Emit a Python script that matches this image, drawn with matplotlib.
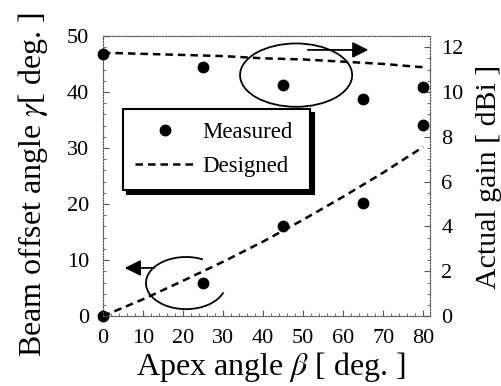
import numpy as np
import matplotlib
matplotlib.use("Agg")
import matplotlib.pyplot as plt
from matplotlib.patches import Ellipse, Arc
from matplotlib.lines import Line2D

plt.rcParams['font.family'] = ['Liberation Serif', 'DejaVu Serif']
plt.rcParams['mathtext.fontset'] = 'stix'

# measured / designed data
apex_meas = [0, 25, 45, 65, 80]
offset_meas = [0, 5.9, 16.0, 20.2, 34.1]
gain_meas = [11.7, 11.1, 10.3, 9.7, 10.2]

apex_des = [0, 10, 20, 30, 40, 50, 60, 70, 80]
offset_des = [0, 3.0, 6.3, 9.7, 13.3, 17.2, 21.3, 25.6, 30.2]
gain_des = [11.75, 11.7, 11.65, 11.6, 11.5, 11.45, 11.35, 11.25, 11.1]

fig = plt.figure(figsize=(5.02, 3.86), dpi=100)
ax = fig.add_axes([0.205, 0.181, 0.652, 0.726])
ax2 = ax.twinx()

dash = dict(ls='--', dashes=(3, 2), color='black', lw=1.8)
ax.plot(apex_des, offset_des, **dash)
ax.plot(apex_meas, offset_meas, 'o', color='black', ms=7.5, clip_on=False, zorder=5)
ax2.plot(apex_des, gain_des, **dash)
ax2.plot(apex_meas, gain_meas, 'o', color='black', ms=7.5, clip_on=False, zorder=5)

ax.set_xlim(0, 81.75)
ax.set_ylim(0, 50)
ax2.set_ylim(0, 12.5)
ax.set_xticks(range(0, 81, 10))
ax.set_yticks(range(0, 51, 10))
ax2.set_yticks(range(0, 13, 2))

for a in (ax, ax2):
    for s in a.spines.values():
        s.set_linestyle(':')
        s.set_color('#555555')
        s.set_linewidth(0.8)
    a.minorticks_on()
    a.tick_params(which='both', direction='in', color='#555555', labelsize=16)
    a.tick_params(which='major', length=4)
    a.tick_params(which='minor', length=2)
ax.tick_params(axis='y', pad=10)
ax.tick_params(axis='x', pad=9)
ax2.tick_params(axis='y', pad=8)

ax.set_xlabel(r'Apex angle $\beta$ [ deg. ]', fontsize=23)
ax.set_ylabel(r'Beam offset angle $\gamma$[ deg. ]', fontsize=23)
ax2.set_ylabel('Actual gain [ dBi ]', fontsize=21.5)
ax.xaxis.set_label_coords(0.514, -0.12)
ax.yaxis.set_label_coords(-0.162, 0.471)
ax2.yaxis.set_label_coords(1.14, 0.496)

# ellipses + arrows showing which axis each curve belongs to
ax.add_patch(Ellipse((48.25, 43.0), 28, 11.3, fill=False, color='black', lw=1.3, zorder=6))
ax.annotate('', xy=(67, 47.5), xytext=(50.5, 47.5),
            arrowprops=dict(arrowstyle='-|>', color='black', lw=1.3, mutation_scale=24))
ax.add_patch(Arc((20.75, 5.9), 20, 9.3, theta1=45, theta2=350, color='black', lw=1.3))
ax.annotate('', xy=(4.75, 8.6), xytext=(13.5, 8.6),
            arrowprops=dict(arrowstyle='-|>', color='black', lw=1.3, mutation_scale=24))

handles = [Line2D([], [], marker='o', ls='none', color='black', ms=7.5),
           Line2D([], [], **dash)]
leg = ax2.legend(handles, ['Measured', 'Designed'], loc='center',
                 bbox_to_anchor=(0.061, 0.443, 0.572, 0.303), mode='expand',
                 borderaxespad=0, fontsize=16.5, fancybox=False, edgecolor='black',
                 framealpha=1, shadow={'color': 'black', 'alpha': 1, 'ox': 3, 'oy': -3},
                 handlelength=2.6, handletextpad=0.3, labelspacing=0.6, borderpad=0.55)
leg.get_frame().set_linewidth(1.5)
leg.set_zorder(10)

fig.savefig('out.png', dpi=100)
